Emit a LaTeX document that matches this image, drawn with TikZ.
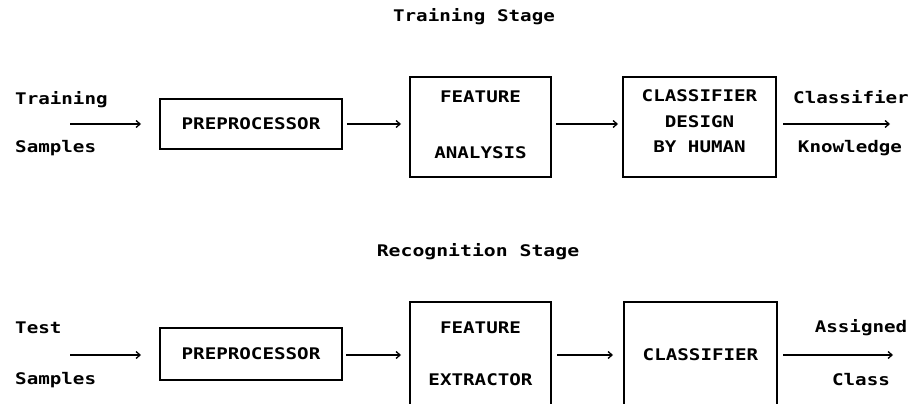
\documentclass[tikz,border=0pt]{standalone}
\usepackage{fontspec}
\newfontfamily\diafont[FakeStretch=1.2]{DejaVu Sans Mono}
\usetikzlibrary{arrows.meta}
\begin{document}
\begin{tikzpicture}[x=1pt,y=-1pt,
  box/.style={draw,line width=1.5pt,inner sep=0pt},
  txt/.style={font=\diafont\bfseries\fontsize{16}{18}\selectfont,inner sep=0pt},
  arr/.style={line width=1.3pt,-{Straight Barb[length=4pt,width=7pt,line width=1.3pt]}}]
\clip (0,0) rectangle (919,404);
\useasboundingbox (0,0) rectangle (919,404);
% titles
\node[txt] (t1) at (474,17) {Training Stage};
\node[txt,xscale=1.03] (t2) at (478,252) {Recognition Stage};
% training row
\node[txt,anchor=west] (tr) at (15,100) {Training};
\node[txt,anchor=west] (sa) at (15,148) {Samples};
\coordinate (in1) at (70,124);
\node[box,minimum width=182pt,minimum height=50pt] (pp1) at (251,124) {};
\node[txt] at (pp1) {PREPROCESSOR};
\node[box,minimum width=141pt,minimum height=100pt] (fa) at (480.5,127) {};
\node[txt] at (480.5,97) {FEATURE};
\node[txt] at (480.5,153) {ANALYSIS};
\node[box,minimum width=153pt,minimum height=100pt] (cd) at (699.5,127) {};
\node[txt] at (699.5,96) {CLASSIFIER};
\node[txt] at (699.5,122) {DESIGN};
\node[txt] at (699.5,147) {BY HUMAN};
\coordinate (out1) at (890,124);
\node[txt] (ck) at (851,97) {Classifier};
\node[txt] (kn) at (850,148) {Knowledge};
\draw[arr] (in1) -- (141,124);
\draw[arr] (pp1.east) ++(4,0) -- (401,124);
\draw[arr] (556,124) -- (618,124);
\draw[arr] (783,124) -- (out1);
% recognition row
\node[txt,anchor=west] (te) at (15,328) {Test};
\node[txt,anchor=west] (sa2) at (15,380) {Samples};
\coordinate (in2) at (70,355);
\node[box,minimum width=182pt,minimum height=52pt] (pp2) at (251,354) {};
\node[txt] at (pp2) {PREPROCESSOR};
\node[box,minimum width=141pt,minimum height=130pt] (fe) at (480.5,367) {};
\node[txt] at (480.5,328) {FEATURE};
\node[txt] at (480.5,380) {EXTRACTOR};
\node[box,minimum width=153pt,minimum height=130pt] (cl) at (700.5,367) {};
\node[txt] at (700.5,355) {CLASSIFIER};
\coordinate (out2) at (893,355);
\node[txt] (as) at (861,328) {Assigned};
\node[txt] (cs) at (861,380) {Class};
\draw[arr] (in2) -- (141,355);
\draw[arr] (346,355) -- (401,355);
\draw[arr] (557,355) -- (613,355);
\draw[arr] (783,355) -- (out2);
\end{tikzpicture}
\end{document}
